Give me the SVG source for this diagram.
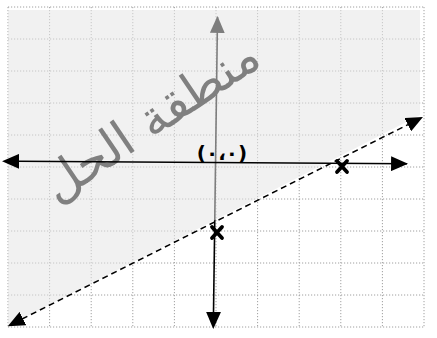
<svg xmlns="http://www.w3.org/2000/svg" width="437" height="338" viewBox="0 0 437 338">
<style>
.grid{stroke:#a0a0a0;stroke-width:1;stroke-dasharray:1.2 1.8;fill:none}
.axis{stroke:#000;stroke-width:1.6;fill:none}
.cross{stroke:#000;stroke-width:3.8;stroke-linecap:round;fill:none}
</style>
<defs>
<marker id="ah" viewBox="0 0 16 14" refX="15" refY="7" markerWidth="17" markerHeight="15" markerUnits="userSpaceOnUse" orient="auto">
<path d="M0,0 L16,7 L0,14 Z" fill="#000"/>
</marker>
<marker id="ahs" viewBox="0 0 16 14" refX="1" refY="7" markerWidth="17" markerHeight="15" markerUnits="userSpaceOnUse" orient="auto-start-reverse">
<path d="M0,0 L16,7 L0,14 Z" fill="#000"/>
</marker>
</defs>
<rect width="437" height="338" fill="#fff"/>
<g id="grid" class="grid">
<path d="M8,7V327M49.6,7V327M91.2,7V327M132.8,7V327M174.4,7V327M216,7V327M257.6,7V327M299.2,7V327M340.8,7V327M382.4,7V327M424,7V327"/>
<path d="M8,7H424M8,39H424M8,71H424M8,103H424M8,135H424M8,167H424M8,199H424M8,231H424M8,263H424M8,295H424M8,327H424"/>
</g>
<g id="y-axis">
<line class="axis" x1="213.5" y1="313" x2="217.5" y2="17" marker-start="url(#ahs)" marker-end="url(#ah)"/>
</g>
<g id="region">
<polygon points="8,10 420,10 420,115 8,326" fill="#e6e6e6" fill-opacity="0.55"/>
<text x="160" y="134" transform="rotate(-34 160 134)" text-anchor="middle" font-family="'DejaVu Sans','Noto Sans',sans-serif" font-size="50" fill="#808080">منطقة الحل</text>
</g>
<g id="connectors">
<line class="axis" x1="18" y1="161.3" x2="407" y2="163.8" marker-start="url(#ahs)" marker-end="url(#ah)"/>
<line x1="22" y1="319" x2="422" y2="117.5" stroke="#000" stroke-width="1.5" stroke-dasharray="6 4" marker-start="url(#ahs)" marker-end="url(#ah)"/>
</g>
<g id="point-x">
<path class="cross" d="M337,161L347,172M347,161L337,172"/>
</g>
<g id="point-y">
<path class="cross" d="M212,227L222,238M222,227L212,238"/>
</g>
<g id="origin">
<text x="222" y="160" text-anchor="middle" font-family="'DejaVu Sans','Noto Sans',sans-serif" font-size="20" font-weight="bold" fill="#000" direction="ltr" unicode-bidi="bidi-override">(٠،٠)</text>
</g>
</svg>
